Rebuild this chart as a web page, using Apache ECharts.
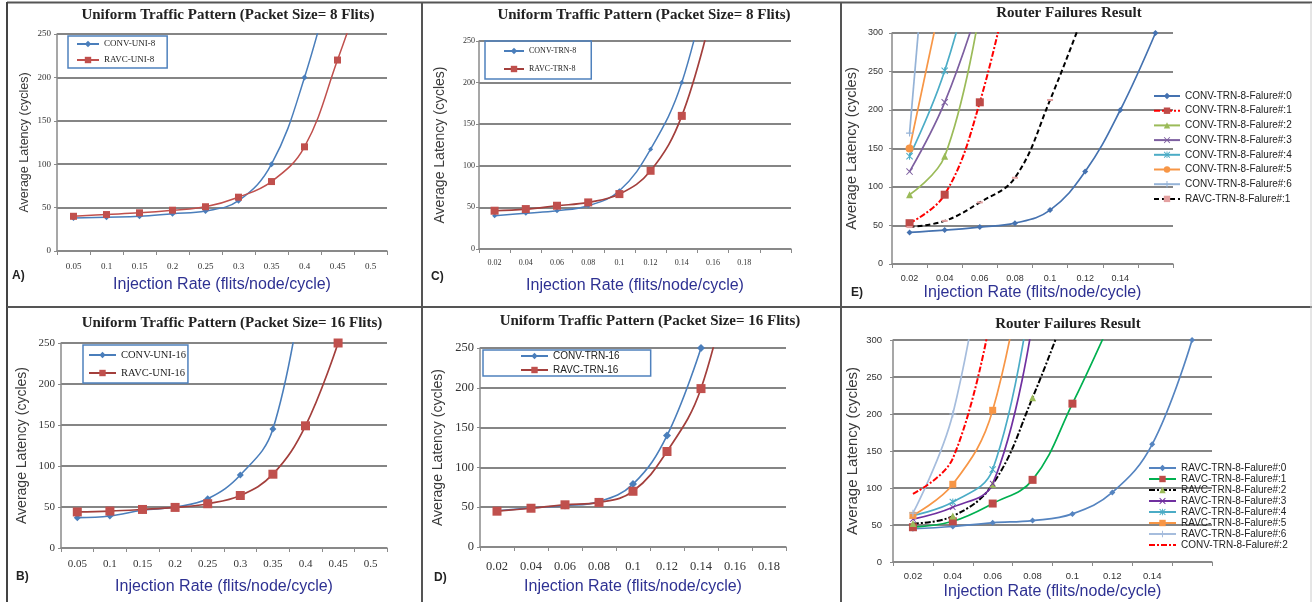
<!DOCTYPE html>
<html><head><meta charset="utf-8">
<script src="https://cdn.jsdelivr.net/npm/echarts/dist/echarts.min.js"></script>
<style>html,body{margin:0;padding:0;background:#fff}#c{width:1312px;height:602px}</style>
</head><body><div id="c"></div>
<script>
// ---------- DATA ----------
const catUni = ['0.05','0.1','0.15','0.2','0.25','0.3','0.35','0.4','0.45','0.5'];
const catTrn8 = ['0.02','0.04','0.06','0.08','0.1','0.12','0.14','0.16','0.18',''];
const catTrn16 = ['0.02','0.04','0.06','0.08','0.1','0.12','0.14','0.16','0.18'];
const catFail = ['0.02','0.04','0.06','0.08','0.1','0.12','0.14',''];

// A) uniform, 8 flits
const convUni8 = [38, 39, 40, 43, 46, 58, 100, 200, 340, null];
const ravcUni8 = [40, 42, 44, 47, 51, 62, 80, 120, 220, 330];
// C) transpose, 8 flits
const convTrn8 = [40, 43, 46, 52, 70, 120, 200, 350, null, null];
const ravcTrn8 = [46, 48, 52, 56, 66, 94, 160, 290, null, null];
// B) uniform, 16 flits
const convUni16 = [37, 39, 46, 50, 60, 89, 145, 345, null, null];
const ravcUni16 = [44, 45, 47, 49.5, 54, 64, 90, 149, 250, null];
// D) transpose, 16 flits
const convTrn16 = [45.5, 49, 52, 57, 79, 140, 250, null, null];
const ravcTrn16 = [45, 48.7, 53, 56, 70, 120, 199, 370, null];
// E) router failures (CONV)
const convFail0 = [41, 44, 48, 53, 70, 120, 200, 300];
const convFail1 = [53, 90, 210, 400, null, null, null, null];
const convFail2 = [90, 140, 330, null, null, null, null, null];
const convFail3 = [120, 210, 340, null, null, null, null, null];
const convFail4 = [140, 251, 420, null, null, null, null, null];
const convFail5 = [150, 365, null, null, null, null, null, null];
const convFail6 = [170, 700, null, null, null, null, null, null];
const ravcFail1E = [48, 56, 80, 112, 213, 330, null, null];
// F) router failures (RAVC)
const ravcFail0 = [45, 48, 53, 56, 65, 94, 159, 300];
const ravcFail1 = [47, 55, 79, 111, 214, 330, null, null];
const ravcFail2 = [52, 62, 105, 222, 362, null, null, null];
const ravcFail3 = [58, 74, 106, 325, null, null, null, null];
const ravcFail4 = [63, 81, 125, 380, null, null, null, null];
const ravcFail5 = [63, 105, 205, 480, null, null, null, null];
const ravcFail6 = [66, 200, 500, null, null, null, null, null];
const convFail2F = [92, 140, 345, null, null, null, null, null];

// legend / series names
const namesE = ['CONV-TRN-8-Falure#:0','CONV-TRN-8-Falure#:1','CONV-TRN-8-Falure#:2','CONV-TRN-8-Falure#:3','CONV-TRN-8-Falure#:4','CONV-TRN-8-Falure#:5','CONV-TRN-8-Falure#:6','RAVC-TRN-8-Falure#:1'];
// trailing space keeps panel-F names distinct from identically labelled panel-E series
const namesF = ['RAVC-TRN-8-Falure#:0','RAVC-TRN-8-Falure#:1 ','RAVC-TRN-8-Falure#:2','RAVC-TRN-8-Falure#:3','RAVC-TRN-8-Falure#:4','RAVC-TRN-8-Falure#:5','RAVC-TRN-8-Falure#:6','CONV-TRN-8-Falure#:2 '];

// ---------- STYLE HELPERS ----------
const X_PATH = 'path://M1,0L5,4L9,0L10,1L6,5L10,9L9,10L5,6L1,10L0,9L4,5L0,1Z';
const STAR_PATH = 'path://M1,0L5,4L9,0L10,1L6,5L10,9L9,10L5,6L1,10L0,9L4,5L0,1Z M4.3,0L5.7,0L5.7,10L4.3,10Z';
const PLUS_PATH = 'path://M4.2,0H5.8V4.2H10V5.8H5.8V10H4.2V5.8H0V4.2H4.2Z';
const SERIF = 'Liberation Serif';
const SANS = 'Liberation Sans';

const grids = [
  {left:57, top:34, width:330, height:217},   // A
  {left:479, top:41, width:312, height:208},  // C
  {left:892, top:33, width:281, height:231},  // E
  {left:61, top:343, width:326, height:205},  // B
  {left:480, top:348, width:306, height:199}, // D
  {left:893, top:340, width:319, height:222}  // F
];
const axCfg = [
  {cats:catUni, max:250, xm:11, ym:6, ff:SERIF, fs:9, xng:34, yng:32, yfs:12.5},
  {cats:catTrn8, max:250, xm:10, ym:4, ff:SERIF, fs:8, xng:37, yng:39, yfs:14},
  {cats:catFail, max:300, xm:10, ym:9, ff:SANS, fs:9, xng:29, yng:40, yfs:14.5},
  {cats:catUni, max:250, xm:11, ym:6, ff:SERIF, fs:11, xng:39, yng:39, yfs:14},
  {cats:catTrn16, max:250, xm:13, ym:6, ff:SERIF, fs:12.5, xng:40, yng:42, yfs:14},
  {cats:catFail, max:300, xm:9, ym:11, ff:SANS, fs:9.5, xng:30, yng:40, yfs:15}
];
const xAxes = axCfg.map((c, i) => ({
  type:'category', gridIndex:i, data:c.cats, boundaryGap:true,
  axisLine:{lineStyle:{color:'#8a8a8a', width:1.5}},
  axisTick:{show:true, interval:0, length:4, lineStyle:{color:'#8a8a8a'}},
  axisLabel:{interval:0, margin:c.xm, fontFamily:c.ff, fontSize:c.fs, color:'#333'},
  splitLine:{show:false},
  name:'Injection Rate (flits/node/cycle)', nameLocation:'middle', nameGap:c.xng,
  nameTextStyle:{fontFamily:SANS, fontSize:16, color:'#2E3192', verticalAlign:'middle'}
}));
const yAxes = axCfg.map((c, i) => ({
  type:'value', gridIndex:i, min:0, max:c.max, interval:50,
  axisLine:{show:true, lineStyle:{color:'#8a8a8a', width:1.5}},
  axisTick:{show:true, length:3, lineStyle:{color:'#8a8a8a'}},
  axisLabel:{margin:c.ym, fontFamily:c.ff, fontSize:c.fs, color:'#333'},
  splitLine:{lineStyle:{color:'#858585', width:2}},
  name:'Average Latency (cycles)', nameLocation:'middle', nameGap:c.yng, nameRotate:90,
  nameTextStyle:{fontFamily:SANS, fontSize:c.yfs, color:'#3a3a3a', verticalAlign:'middle'}
}));

function ln(name, data, gi, o) {
  return {
    type:'line', name, data, xAxisIndex:gi, yAxisIndex:gi,
    smooth:0.4, clip:true, connectNulls:false,
    symbol:o.sym || 'none', symbolSize:o.ss || 6, showSymbol: !!o.sym,
    lineStyle:{color:o.c, width:o.w || 1.7, type:o.t || 'solid'},
    itemStyle:{color:o.mc || o.c, borderWidth:0},
    emphasis:{disabled:true}, animation:false, z:o.z || 2
  };
}
const BLUE = '#4A7EBB', RED = '#C0504D';
const series = [
  // A
  ln('CONV-UNI-8', convUni8, 0, {c:BLUE, sym:'diamond', ss:6, w:1.5}),
  ln('RAVC-UNI-8', ravcUni8, 0, {c:RED, sym:'rect', ss:7, w:1.5}),
  // C
  ln('CONV-TRN-8', convTrn8, 1, {c:BLUE, sym:'diamond', ss:5, w:1.5}),
  ln('RAVC-TRN-8', ravcTrn8, 1, {c:'#A33F3C', mc:RED, sym:'rect', ss:8, w:1.7}),
  // E
  ln(namesE[0], convFail0, 2, {c:'#4572B0', sym:'diamond', ss:6, w:1.7}),
  ln(namesE[1], convFail1, 2, {c:'#FF0000', mc:'#BE4B48', t:[6,2,2,2], sym:'rect', ss:8, w:2}),
  ln(namesE[2], convFail2, 2, {c:'#9BBB59', sym:'triangle', ss:7}),
  ln(namesE[3], convFail3, 2, {c:'#7D5FA0', sym:X_PATH, ss:7}),
  ln(namesE[4], convFail4, 2, {c:'#4BACC6', sym:STAR_PATH, ss:7}),
  ln(namesE[5], convFail5, 2, {c:'#F79646', sym:'circle', ss:8}),
  ln(namesE[6], convFail6, 2, {c:'#95B3D7', sym:PLUS_PATH, ss:7}),
  ln(namesE[7], ravcFail1E, 2, {c:'#000000', mc:'#E3A0A0', t:[5,3], sym:'rect', ss:[6,2], w:2}),
  // B
  ln('CONV-UNI-16', convUni16, 3, {c:BLUE, sym:'diamond', ss:7, w:1.6}),
  ln('RAVC-UNI-16', ravcUni16, 3, {c:'#A33F3C', mc:RED, sym:'rect', ss:9, w:1.7}),
  // D
  ln('CONV-TRN-16', convTrn16, 4, {c:BLUE, sym:'diamond', ss:8, w:1.6}),
  ln('RAVC-TRN-16', ravcTrn16, 4, {c:'#A33F3C', mc:RED, sym:'rect', ss:9, w:1.7}),
  // F
  ln(namesF[0], ravcFail0, 5, {c:'#5584C0', sym:'diamond', ss:6}),
  ln(namesF[1], ravcFail1, 5, {c:'#00B050', mc:'#BE4B48', sym:'rect', ss:8}),
  ln(namesF[2], ravcFail2, 5, {c:'#000000', mc:'#9BBB59', t:[6,2,2,2], sym:'triangle', ss:7, w:2}),
  ln(namesF[3], ravcFail3, 5, {c:'#7030A0', sym:X_PATH, ss:6}),
  ln(namesF[4], ravcFail4, 5, {c:'#4BACC6', sym:STAR_PATH, ss:7}),
  ln(namesF[5], ravcFail5, 5, {c:'#F79646', sym:'rect', ss:7}),
  ln(namesF[6], ravcFail6, 5, {c:'#A6BDDD', sym:PLUS_PATH, ss:7}),
  ln(namesF[7], convFail2F, 5, {c:'#FF0000', mc:'rgba(0,0,0,0)', t:[6,2,2,2], w:2})
];

const legBase = {orient:'vertical', itemWidth:22, itemHeight:8, selectedMode:false, inactiveColor:'#ccc'};
const legends = [
  Object.assign({}, legBase, {left:68, top:36, data:['CONV-UNI-8','RAVC-UNI-8'], borderColor:'#4F81BD', borderWidth:1.5,
    padding:[3,12,3,8], itemGap:6, textStyle:{fontFamily:SERIF, fontSize:9, lineHeight:10, color:'#222'}}),
  Object.assign({}, legBase, {left:485, top:41, data:['CONV-TRN-8','RAVC-TRN-8'], borderColor:'#4F81BD', borderWidth:1.5,
    padding:[5,15,5,18], itemWidth:20, itemGap:8, textStyle:{fontFamily:SERIF, fontSize:8, lineHeight:10, color:'#222'}}),
  Object.assign({}, legBase, {left:1153, top:91, itemWidth:26, itemGap:4.7, data:namesE,
    padding:0, textStyle:{fontFamily:SANS, fontSize:10, lineHeight:10, color:'#222'}}),
  Object.assign({}, legBase, {left:83, top:345, data:['CONV-UNI-16','RAVC-UNI-16'], borderColor:'#4F81BD', borderWidth:1.5,
    padding:[4,2,4,5], itemWidth:27, itemGap:6, textStyle:{fontFamily:SERIF, fontSize:10.5, lineHeight:12, color:'#222'}}),
  Object.assign({}, legBase, {left:483, top:350, data:['CONV-TRN-16','RAVC-TRN-16'], borderColor:'#4F81BD', borderWidth:1.5,
    padding:[1,31,1,37], itemWidth:27, itemGap:4, textStyle:{fontFamily:SANS, fontSize:10, lineHeight:10, color:'#222'}}),
  Object.assign({}, legBase, {left:1148, top:463, itemWidth:27, itemGap:1, data:namesF,
    padding:0, textStyle:{fontFamily:SANS, fontSize:10, lineHeight:10, color:'#222'}})
];

function txt(t, x, y, font, color, align) {
  return {type:'text', z:50, silent:true, style:{text:t, x, y, font, fill:color || '#222',
    textAlign:align || 'center', align:align || 'center', textVerticalAlign:'middle', verticalAlign:'middle'}};
}
function seg(x1, y1, x2, y2, col, w) {
  return {type:'line', z:40, silent:true, shape:{x1, y1, x2, y2}, style:{stroke:col, lineWidth:w}};
}
const TF = 'bold 15px "Liberation Serif"';
const LF = 'bold 12px "Liberation Sans"';
const graphics = [
  seg(7, 2.5, 1312, 2.5, '#555', 2),
  seg(7, 2, 7, 602, '#444', 2),
  seg(422, 2, 422, 602, '#555', 2),
  seg(841, 2, 841, 602, '#555', 2),
  seg(7, 307, 1312, 307, '#555', 2),
  seg(1311, 3, 1311, 602, '#ccc', 1),
  txt('Uniform Traffic Pattern (Packet Size= 8 Flits)', 228, 15, TF),
  txt('Uniform Traffic Pattern (Packet Size= 8 Flits)', 644, 15, TF),
  txt('Router Failures Result', 1069, 13, TF),
  txt('Uniform Traffic Pattern (Packet Size= 16 Flits)', 232, 323, TF),
  txt('Uniform Traffic Pattern (Packet Size= 16 Flits)', 650, 321, TF),
  txt('Router Failures Result', 1068, 324, TF),
  txt('A)', 12, 276, LF, '#222', 'left'),
  txt('C)', 431, 277, LF, '#222', 'left'),
  txt('E)', 851, 293, LF, '#222', 'left'),
  txt('B)', 16, 577, LF, '#222', 'left'),
  txt('D)', 434, 578, LF, '#222', 'left')
];

const chart = echarts.init(document.getElementById('c'), null, {renderer:'canvas'});
chart.setOption({
  backgroundColor:'#ffffff',
  animation:false,
  grid:grids,
  xAxis:xAxes,
  yAxis:yAxes,
  legend:legends,
  series:series,
  graphic:graphics
});
</script></body></html>
